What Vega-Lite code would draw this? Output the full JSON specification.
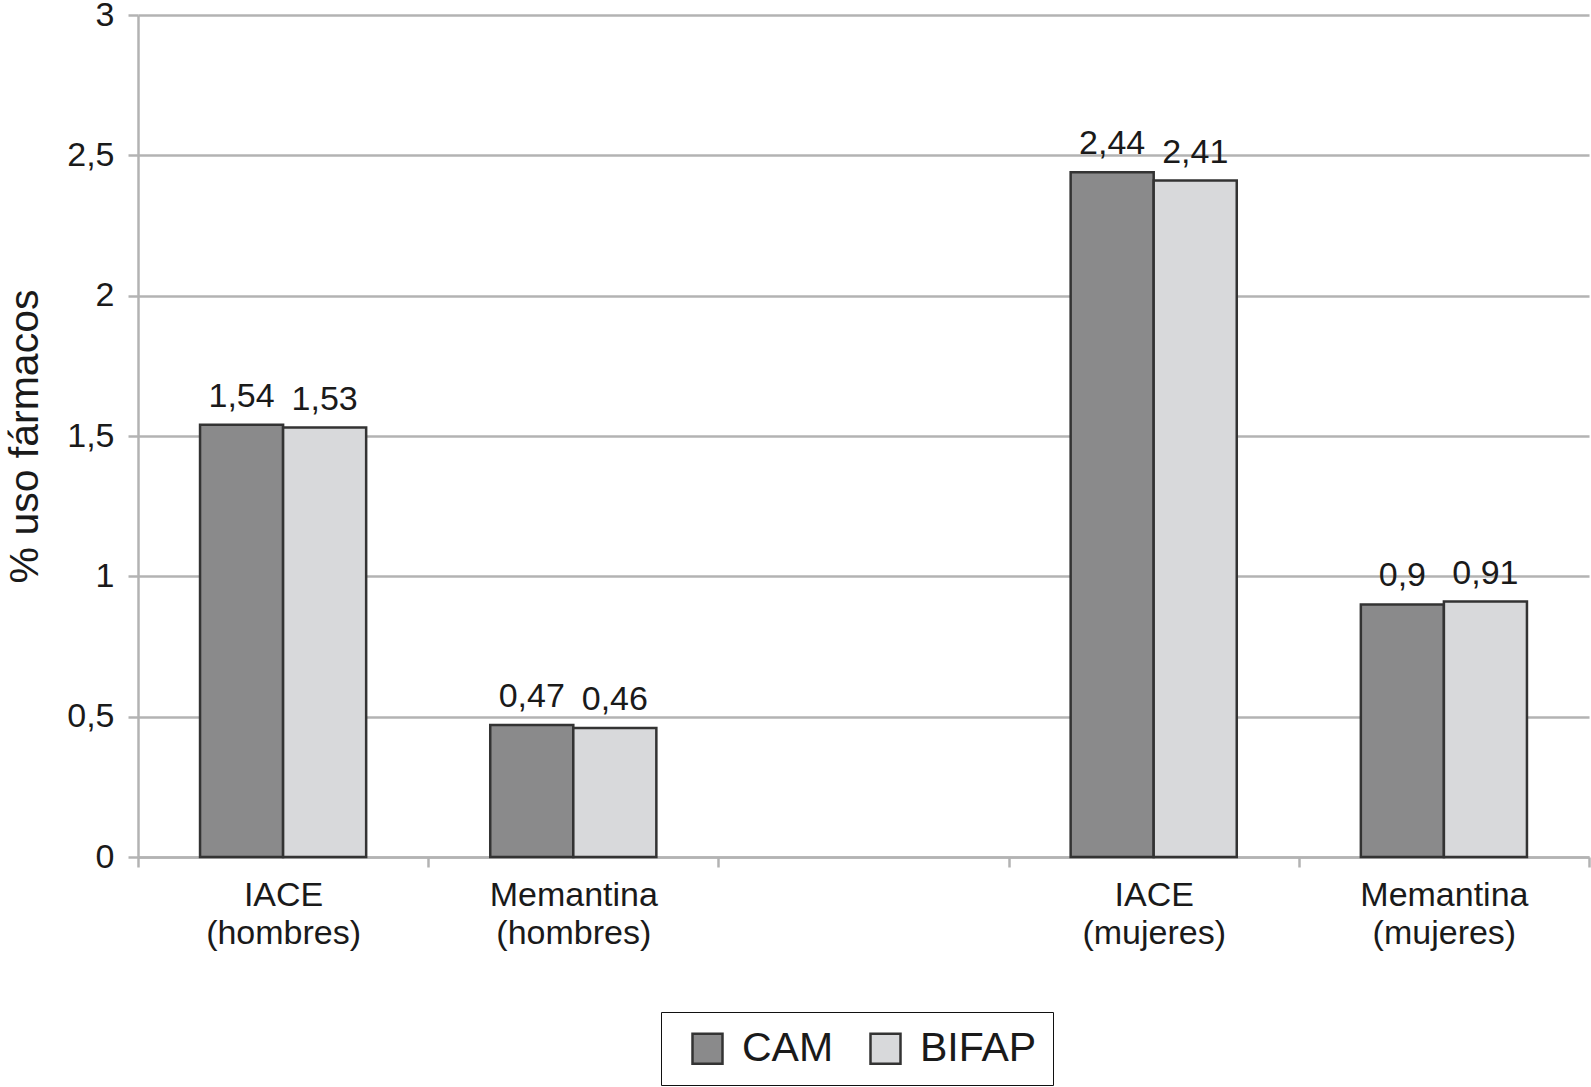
{
  "$schema": "https://vega.github.io/schema/vega-lite/v6.json",
  "width": 1451,
  "height": 842,
  "autosize": {"type": "none"},
  "padding": {"left": 138, "top": 15, "right": 2, "bottom": 230},
  "background": "white",
  "config": {
    "font": "Liberation Sans",
    "view": {"stroke": null},
    "axis": {"labelColor": "#1a1a1a", "titleColor": "#1a1a1a", "labelFont": "Liberation Sans", "titleFont": "Liberation Sans"},
    "legend": {"labelFont": "Liberation Sans"}
  },
  "data": {
    "values": [
      {"cat": "IACE|(hombres)", "source": "CAM", "value": 1.54, "label": "1,54"},
      {"cat": "IACE|(hombres)", "source": "BIFAP", "value": 1.53, "label": "1,53"},
      {"cat": "Memantina|(hombres)", "source": "CAM", "value": 0.47, "label": "0,47"},
      {"cat": "Memantina|(hombres)", "source": "BIFAP", "value": 0.46, "label": "0,46"},
      {"cat": "IACE|(mujeres)", "source": "CAM", "value": 2.44, "label": "2,44"},
      {"cat": "IACE|(mujeres)", "source": "BIFAP", "value": 2.41, "label": "2,41"},
      {"cat": "Memantina|(mujeres)", "source": "CAM", "value": 0.9, "label": "0,9"},
      {"cat": "Memantina|(mujeres)", "source": "BIFAP", "value": 0.91, "label": "0,91"}
    ]
  },
  "encoding": {
    "x": {
      "field": "cat",
      "type": "nominal",
      "sort": null,
      "scale": {
        "domain": ["IACE|(hombres)", "Memantina|(hombres)", "blank", "IACE|(mujeres)", "Memantina|(mujeres)"],
        "paddingInner": 0,
        "paddingOuter": 0
      },
      "axis": {
        "title": null,
        "tickBand": "extent",
        "labelAngle": 0,
        "labelExpr": "datum.label == 'blank' ? '' : split(datum.label, '|')",
        "labelFontSize": 34,
        "labelLineHeight": 38,
        "labelPadding": 11,
        "labelBaseline": "top",
        "domainColor": "#b3b3b3",
        "domainWidth": 2.5,
        "tickColor": "#b3b3b3",
        "tickWidth": 2.5,
        "tickSize": 10,
        "grid": false
      }
    },
    "xOffset": {
      "field": "source",
      "type": "nominal",
      "sort": null,
      "scale": {"domain": ["CAM", "BIFAP"], "paddingOuter": 0.747, "paddingInner": 0}
    },
    "y": {
      "field": "value",
      "type": "quantitative",
      "scale": {"domain": [0, 3], "nice": false, "zero": true},
      "axis": {
        "title": "% uso fármacos",
        "titleFontSize": 41,
        "titleFontWeight": "normal",
        "titlePadding": 20,
        "values": [0, 0.5, 1, 1.5, 2, 2.5, 3],
        "labelExpr": "replace(toString(datum.value), '.', ',')",
        "labelFontSize": 34,
        "labelPadding": 14,
        "domainColor": "#b3b3b3",
        "domainWidth": 2.5,
        "tickColor": "#b3b3b3",
        "tickWidth": 2.5,
        "tickSize": 10,
        "gridColor": "#b3b3b3",
        "gridWidth": 2.5
      }
    }
  },
  "layer": [
    {
      "mark": {"type": "bar", "stroke": "#333333", "strokeWidth": 2.5},
      "encoding": {
        "color": {
          "field": "source",
          "type": "nominal",
          "sort": null,
          "scale": {"domain": ["CAM", "BIFAP"], "range": ["#8a8a8b", "#d8d9db"]},
          "legend": {
            "title": null,
            "orient": "none",
            "legendX": 523,
            "legendY": 997,
            "direction": "horizontal",
            "strokeColor": "#111111",
            "fillColor": "white",
            "padding": 16,
            "labelFontSize": 41,
            "labelColor": "#1a1a1a",
            "labelOffset": 14,
            "columnPadding": 21,
            "symbolOffset": 10,
            "symbolType": "square",
            "symbolSize": 900,
            "symbolStrokeColor": "#333333",
            "symbolStrokeWidth": 2.5,
            "encoding": {"legend": {"update": {"strokeWidth": {"value": 2.5}}}}
          }
        }
      }
    },
    {
      "mark": {"type": "text", "baseline": "bottom", "dy": -11, "fontSize": 34, "color": "#1a1a1a"},
      "encoding": {"text": {"field": "label"}}
    }
  ]
}
